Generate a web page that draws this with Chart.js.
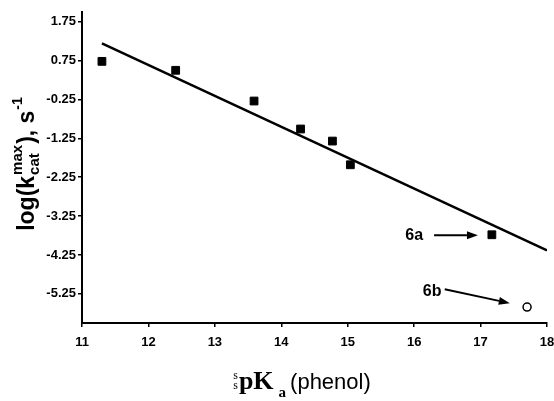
<!DOCTYPE html>
<html>
<head>
<meta charset="utf-8">
<script src="https://cdn.jsdelivr.net/npm/chart.js@4/dist/chart.umd.min.js"></script>
<style>
  body { margin: 0; background: #fff; }
  canvas { display: block; }
</style>
</head>
<body>
<canvas id="chart" width="554" height="401"></canvas>
<script>
// measured points (pKa of phenol vs log kcat max)
const pkaX = [11.3, 12.41, 13.59, 14.29, 14.77, 15.04, 17.17];
const logK = [0.73, 0.50, -0.29, -1.01, -1.32, -1.93, -3.73];
// outlier 6b, open circle
const outlierX = [17.70];
const outlierY = [-5.59];
// fitted line end points
const fitX = [11.3, 18];
const fitY = [1.19, -4.13];
// axis ticks
const yTicks = [1.75, 0.75, -0.25, -1.25, -2.25, -3.25, -4.25, -5.25];
const xTicks = [11, 12, 13, 14, 15, 16, 17, 18];
// labels and arrows (data coords)
const noteText = ['6a', '6b'];
const noteX = [16.0, 16.27];
const noteY = [-3.74, -5.19];
const arrowFromX = [16.30, 16.46];
const arrowFromY = [-3.74, -5.13];
const arrowToX = [16.96, 17.44];
const arrowToY = [-3.74, -5.49];

const SANS = '"Liberation Sans", Arial, sans-serif';
const SERIF = '"Liberation Serif", "Times New Roman", serif';

// draws pieces of text in a row, pieces can carry a second text stacked over them
function drawRich(ctx, parts, x, y) {
  let cx = x;
  parts.forEach(p => {
    cx += p.gap || 0;
    ctx.font = p.font;
    const w1 = ctx.measureText(p.t).width;
    ctx.fillText(p.t, cx, y + (p.dy || 0));
    let w = w1;
    if (p.over) {
      ctx.font = p.overFont || p.font;
      const w2 = ctx.measureText(p.over).width;
      ctx.fillText(p.over, cx, y + p.overDy);
      w = Math.max(w1, w2);
    }
    cx += w;
  });
  return cx - x;
}

function richWidth(ctx, parts) {
  let w = 0;
  parts.forEach(p => {
    ctx.font = p.font;
    let a = ctx.measureText(p.t).width;
    if (p.over) {
      ctx.font = p.overFont || p.font;
      a = Math.max(a, ctx.measureText(p.over).width);
    }
    w += a + (p.gap || 0);
  });
  return w;
}

const yTitle = [
  { t: 'log(k', font: 'bold 23px ' + SANS },
  { t: 'cat', font: 'bold 15px ' + SANS, dy: 5, over: 'max', overDy: -12, gap: 1 },
  { t: '), s', font: 'bold 23px ' + SANS, gap: 1 },
  { t: '-1', font: 'bold 14px ' + SANS, dy: -12, gap: 1 }
];

const xTitle = [
  { t: 's', font: '12px ' + SERIF, dy: 0, over: 's', overDy: -10 },
  { t: 'pK', font: 'bold 26px ' + SERIF, gap: 1 },
  { t: 'a', font: 'bold 15px ' + SERIF, dy: 8, gap: 5 },
  { t: '(phenol)', font: '22px ' + SANS, gap: 4 }
];

const extras = {
  id: 'extras',
  afterDraw(chart) {
    const ctx = chart.ctx;
    const xs = chart.scales.x, ys = chart.scales.y;
    ctx.save();
    ctx.fillStyle = '#000';
    ctx.strokeStyle = '#000';
    ctx.textBaseline = 'alphabetic';
    ctx.textAlign = 'left';

    // y title, rotated
    ctx.save();
    ctx.translate(34, 164);
    ctx.rotate(-Math.PI / 2);
    const wy = richWidth(ctx, yTitle);
    drawRich(ctx, yTitle, -wy / 2, 0);
    ctx.restore();

    // x title
    const wx = richWidth(ctx, xTitle);
    drawRich(ctx, xTitle, 302 - wx / 2, 389);

    // notes
    ctx.font = 'bold 16px ' + SANS;
    ctx.textAlign = 'center';
    ctx.textBaseline = 'middle';
    noteText.forEach((t, i) => {
      ctx.fillText(t, xs.getPixelForValue(noteX[i]), ys.getPixelForValue(noteY[i]));
    });

    // arrows
    ctx.lineWidth = 2;
    arrowFromX.forEach((_, i) => {
      const x0 = xs.getPixelForValue(arrowFromX[i]), y0 = ys.getPixelForValue(arrowFromY[i]);
      const x1 = xs.getPixelForValue(arrowToX[i]), y1 = ys.getPixelForValue(arrowToY[i]);
      const ang = Math.atan2(y1 - y0, x1 - x0);
      const hl = 11, hw = 4;
      const bx = x1 - hl * Math.cos(ang), by = y1 - hl * Math.sin(ang);
      ctx.beginPath();
      ctx.moveTo(x0, y0);
      ctx.lineTo(bx, by);
      ctx.stroke();
      ctx.beginPath();
      ctx.moveTo(x1, y1);
      ctx.lineTo(bx + hw * Math.sin(ang), by - hw * Math.cos(ang));
      ctx.lineTo(bx - hw * Math.sin(ang), by + hw * Math.cos(ang));
      ctx.closePath();
      ctx.fill();
    });
    ctx.restore();
  }
};

const tickFont = { family: SANS, size: 13, weight: 'bold' };

new Chart(document.getElementById('chart'), {
  type: 'scatter',
  data: {
    datasets: [
      {
        type: 'line',
        data: fitX.map((x, i) => ({ x: x, y: fitY[i] })),
        borderColor: '#000',
        borderWidth: 2.5,
        pointRadius: 0,
        fill: false
      },
      {
        data: pkaX.map((x, i) => ({ x: x, y: logK[i] })),
        pointStyle: 'rect',
        pointRadius: 5.5,
        backgroundColor: '#000',
        borderColor: '#000',
        borderWidth: 1
      },
      {
        data: outlierX.map((x, i) => ({ x: x, y: outlierY[i] })),
        pointStyle: 'circle',
        pointRadius: 4,
        backgroundColor: '#fff',
        borderColor: '#000',
        borderWidth: 1.5
      }
    ]
  },
  options: {
    responsive: false,
    animation: false,
    layout: { padding: { top: 12, right: 0, left: 0, bottom: 0 } },
    plugins: { legend: { display: false }, tooltip: { enabled: false } },
    scales: {
      x: {
        type: 'linear',
        min: 11,
        max: 18,
        afterBuildTicks: s => { s.ticks = xTicks.map(v => ({ value: v })); },
        afterFit: s => { s.height = 78; s.paddingRight = 7; },
        ticks: { color: '#000', font: tickFont, padding: 8 },
        grid: { drawOnChartArea: false, drawTicks: true, tickLength: 4, color: '#000', lineWidth: 1.5 },
        border: { color: '#000', width: 2 }
      },
      y: {
        min: -6,
        max: 2,
        afterBuildTicks: s => { s.ticks = yTicks.map(v => ({ value: v })); },
        afterFit: s => { s.width = 82; },
        ticks: { color: '#000', font: tickFont, padding: 2, callback: v => v.toFixed(2) },
        grid: { drawOnChartArea: false, drawTicks: true, tickLength: 4, color: '#000', lineWidth: 1.5 },
        border: { color: '#000', width: 2 }
      }
    }
  },
  plugins: [extras]
});
</script>
</body>
</html>
